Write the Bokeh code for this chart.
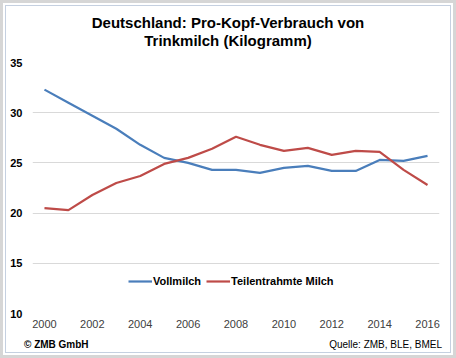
from bokeh.plotting import figure
from bokeh.models import Legend, LegendItem, FixedTicker, Div
from bokeh.layouts import column
from bokeh.embed import file_html
from bokeh.resources import INLINE

years = list(range(2000, 2017))
vollmilch = [32.3, 31.0, 29.7, 28.4, 26.8, 25.5, 25.0, 24.3, 24.3, 24.0, 24.5, 24.7, 24.2, 24.2, 25.3, 25.2, 25.7]
teilentrahmt = [20.5, 20.3, 21.8, 23.0, 23.7, 24.9, 25.5, 26.4, 27.6, 26.8, 26.2, 26.5, 25.8, 26.2, 26.1, 24.3, 22.8]
y_ticks = [10, 15, 20, 25, 30, 35]
x_ticks = [2000, 2002, 2004, 2006, 2008, 2010, 2012, 2014, 2016]
title_lines = ["Deutschland: Pro-Kopf-Verbrauch von", "Trinkmilch (Kilogramm)"]
footer_left = "© ZMB GmbH"
footer_right = "Quelle: ZMB, BLE, BMEL"

FONT = "Liberation Sans"

title_div = Div(
    text=('<div style="width:450px;text-align:center;padding-top:11px;'
          f"font-family:'{FONT}';font-size:15px;font-weight:bold;line-height:18px;color:black;\">"
          + "<br>".join(title_lines) + "</div>"),
    width=450, height=49, margin=0)

p = figure(width=450, height=284, output_backend="svg", toolbar_location=None,
           x_range=(1999.5, 2016.5), y_range=(10, 35),
           min_border_left=29, min_border_right=14, min_border_top=10, min_border_bottom=23,
           margin=0)
p.outline_line_color = None
p.background_fill_color = "white"
p.border_fill_color = None

p.xgrid.grid_line_color = None
p.ygrid.grid_line_color = "#d9d9d9"
p.ygrid.grid_line_width = 1

p.yaxis.ticker = FixedTicker(ticks=y_ticks)
p.xaxis.ticker = FixedTicker(ticks=x_ticks)
for ax in (p.xaxis, p.yaxis):
    ax.axis_line_color = None
    ax.major_tick_line_color = None
    ax.minor_tick_line_color = None
    ax.major_tick_out = 0
    ax.major_tick_in = 0
    ax.major_label_text_font = FONT
    ax.major_label_text_font_size = "11px"
p.yaxis.major_label_text_font_style = "bold"
p.yaxis.major_label_text_color = "black"
p.yaxis.major_label_standoff = 10
p.xaxis.major_label_text_color = "#404040"
p.xaxis.major_label_standoff = 6

r1 = p.line(years, vollmilch, line_color="#4a7ebb", line_width=2.2)
r2 = p.line(years, teilentrahmt, line_color="#be4b48", line_width=2.2)

legend = Legend(items=[LegendItem(label="Vollmilch", renderers=[r1]),
                       LegendItem(label="Teilentrahmte Milch", renderers=[r2])],
                orientation="horizontal", location=(96, 22),
                background_fill_alpha=0, border_line_color=None,
                label_text_font=FONT, label_text_font_size="11px",
                label_text_font_style="bold", label_text_color="black",
                glyph_width=24, label_standoff=1, spacing=5, padding=0, margin=0)
p.add_layout(legend, "center")

footer_div = Div(
    text=('<div style="width:450px;box-sizing:border-box;padding-left:21px;padding-right:11px;'
          f"display:flex;justify-content:space-between;font-family:'{FONT}';font-size:10px;"
          'line-height:14px;color:black;">'
          f'<span style="font-weight:bold">{footer_left}</span><span>{footer_right}</span></div>'),
    width=450, height=19, margin=0)

layout = column(title_div, p, footer_div, spacing=0)
layout.styles = {
    "border": "3px solid #d6d6d6",
    "background-color": "white",
    "box-shadow": "inset 0 0 0 2px white, inset 0 0 0 3px #c5d0e0",
}

open("out.html", "w").write(file_html(layout, INLINE))
